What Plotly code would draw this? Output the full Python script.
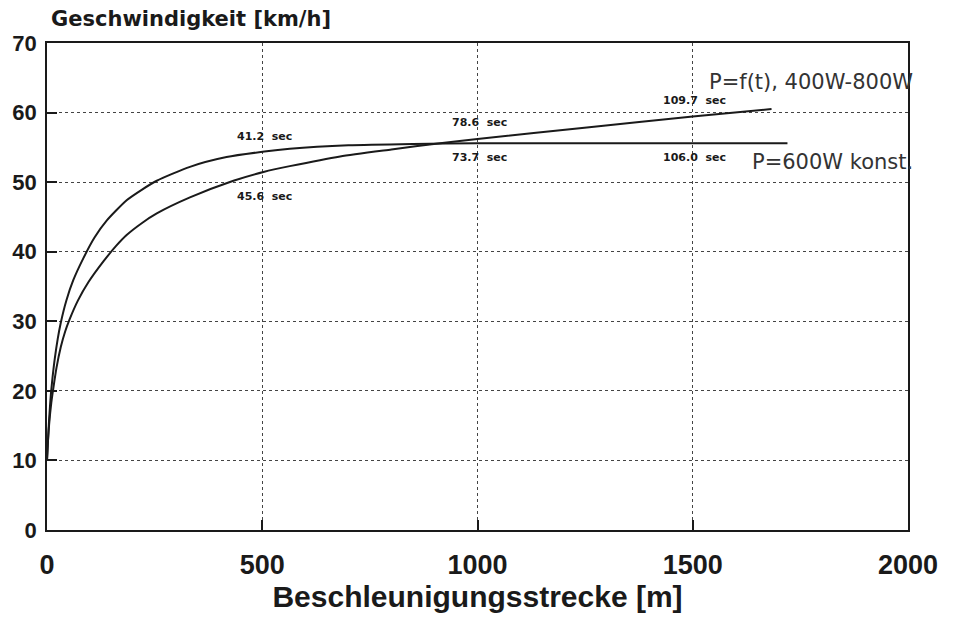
import plotly.graph_objects as go

# Data
const_x = [0, 2, 5, 9, 13, 18, 25, 32, 45, 61, 84, 110, 139, 185, 220, 255, 332, 417, 505, 564, 700, 850, 1000, 1250, 1500, 1720]
const_y = [10, 12.5, 16, 19.5, 22, 24.6, 27.5, 29.8, 33.0, 35.9, 39.0, 42.0, 44.5, 47.4, 48.9, 50.2, 52.2, 53.6, 54.4, 54.8, 55.3, 55.5, 55.6, 55.6, 55.6, 55.6]

var_x = [0, 2, 5, 10, 15, 22, 32, 42, 52, 72, 96, 131, 160, 185, 220, 255, 332, 433, 505, 564, 681, 800, 913, 1000, 1254, 1500, 1683]
var_y = [10, 12.5, 15.2, 18.3, 20.5, 23.3, 26.3, 28.5, 30.2, 33, 35.6, 38.6, 40.8, 42.4, 44.1, 45.5, 47.8, 50.2, 51.5, 52.3, 53.7, 54.7, 55.6, 56.2, 57.85, 59.45, 60.5]

time_labels = ["41.2  sec", "45.6  sec", "78.6  sec", "73.7  sec", "109.7  sec", "106.0  sec"]
time_x = [500, 500, 1000, 1000, 1500, 1500]
time_y = [56.6, 48.0, 58.6, 53.6, 61.7, 53.5]

series_names = ["P=f(t), 400W-800W", "P=600W konst."]
series_label_y = [64.4, 52.9]

x_ticks = [0, 500, 1000, 1500, 2000]
y_ticks = [0, 10, 20, 30, 40, 50, 60, 70]

ink = "#1a1a1a"

fig = go.Figure()
fig.add_trace(go.Scatter(x=const_x, y=const_y, mode="lines", name=series_names[1],
                         line=dict(color=ink, width=2, shape="spline", smoothing=0.6)))
fig.add_trace(go.Scatter(x=var_x, y=var_y, mode="lines", name=series_names[0],
                         line=dict(color=ink, width=2, shape="spline", smoothing=0.6)))

for t, x, y in zip(time_labels, time_x, time_y):
    fig.add_annotation(x=x, y=y, xref="x", yref="y", text=t, showarrow=False,
                       font=dict(family="DejaVu Sans", size=11, color=ink, weight="bold"),
                       xanchor="center", yanchor="middle", xshift=2)

for name, y in zip(series_names, series_label_y):
    fig.add_annotation(x=2000, y=y, xref="x", yref="y", text=name, showarrow=False,
                       font=dict(family="DejaVu Sans", size=21, color="#333"),
                       xanchor="right", yanchor="middle", xshift=7)

fig.add_annotation(x=0, y=1, xref="paper", yref="paper", text="Geschwindigkeit [km/h]",
                   showarrow=False, xanchor="left", yanchor="middle", xshift=2, yshift=24,
                   font=dict(family="DejaVu Sans", size=21, color=ink, weight="bold"))

fig.update_layout(
    width=956, height=617,
    margin=dict(l=39, r=56, t=35, b=95),
    paper_bgcolor="white", plot_bgcolor="white",
    showlegend=False,
    xaxis=dict(range=[0, 2000], tickvals=x_ticks, ticks="inside", ticklen=10, tickwidth=1.5,
               tickcolor=ink, showline=True, mirror=True, linecolor=ink, linewidth=1.5,
               showgrid=True, gridcolor="#444", griddash="dot", gridwidth=1, zeroline=False,
               automargin=False,
               tickfont=dict(family="Liberation Sans", size=27, color=ink, weight="bold"),
               ticklabelstandoff=10,
               title=dict(text="Beschleunigungsstrecke [m]", standoff=7,
                          font=dict(family="Liberation Sans", size=30, color=ink, weight="bold"))),
    yaxis=dict(range=[0, 70], tickvals=y_ticks, ticks="inside", ticklen=10, tickwidth=1.5,
               tickcolor=ink, showline=True, mirror=True, linecolor=ink, linewidth=1.5,
               showgrid=True, gridcolor="#444", griddash="dot", gridwidth=1, zeroline=False,
               automargin=False,
               tickfont=dict(family="Liberation Sans", size=22, color=ink, weight="bold"),
               ticklabelstandoff=4),
)

fig.write_html("out.html")
